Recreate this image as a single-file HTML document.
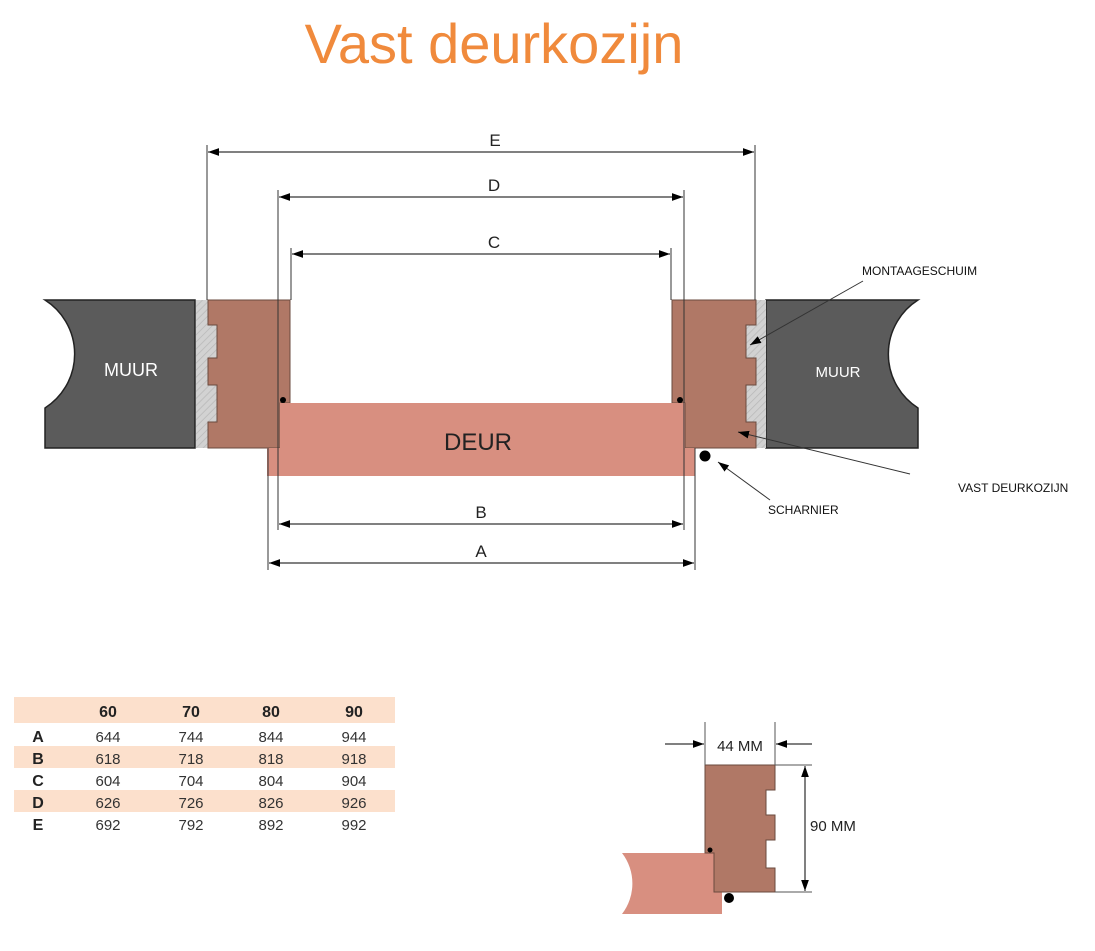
<!DOCTYPE html>
<html><head><meta charset="utf-8"><style>
html,body{margin:0;padding:0;background:#fff}
svg{display:block}
text{font-family:"Liberation Sans",sans-serif}
</style></head><body>
<svg width="1095" height="951" viewBox="0 0 1095 951" xmlns="http://www.w3.org/2000/svg">
<defs>
<pattern id="h" width="5" height="5" patternUnits="userSpaceOnUse" patternTransform="rotate(45)">
<rect width="5" height="5" fill="#d2d2d2"/><line x1="0" y1="0" x2="0" y2="5" stroke="#b8b8b8" stroke-width="1.5"/></pattern>
<marker id="a" viewBox="0 0 10 10" refX="10" refY="5" markerWidth="11" markerHeight="11" orient="auto-start-reverse"><path d="M0,1.5 L10,5 L0,8.5z" fill="#000"/></marker>
</defs>
<text x="494" y="63" font-size="56" fill="#f08a3c" text-anchor="middle" font-family="Liberation Sans">Vast deurkozijn</text>

<!-- walls -->
<path d="M45,300 L195,300 L195,448 L45,448 L45,408 A64,64 0 0 0 45,300Z" fill="#5b5b5b" stroke="#222" stroke-width="1.5"/>
<path d="M766,300 L918,300 A64,64 0 0 0 918,408 L918,448 L766,448Z" fill="#5b5b5b" stroke="#222" stroke-width="1.5"/>
<text x="131" y="376" font-size="18" fill="#fff" text-anchor="middle">MUUR</text>
<text x="838" y="377" font-size="15" fill="#fff" text-anchor="middle">MUUR</text>

<!-- foam -->
<rect x="196" y="300" width="22" height="148" fill="url(#h)"/>
<rect x="745" y="300" width="21" height="148" fill="url(#h)"/>

<!-- frames -->
<path d="M208,300 L290,300 L290,403 L280,403 L280,448 L208,448 L208,422 L217,422 L217,385 L208,385 L208,358 L217,358 L217,325 L208,325Z" fill="#b07866" stroke="#6a4a3e" stroke-width="1"/>
<path d="M672,300 L756,300 L756,325 L746,325 L746,358 L756,358 L756,385 L746,385 L746,422 L756,422 L756,448 L685,448 L685,403 L672,403Z" fill="#b07866" stroke="#6a4a3e" stroke-width="1"/>
<circle cx="283" cy="400" r="3" fill="#000"/><circle cx="680" cy="400" r="3" fill="#000"/>

<!-- door -->
<path d="M280,403 L685,403 L685,448 L695,448 L695,476 L267,476 L267,448 L280,448Z" fill="#d88f80"/>
<text x="478" y="450" font-size="24" fill="#222" text-anchor="middle">DEUR</text>
<circle cx="705" cy="456" r="5.5" fill="#000"/>

<!-- extension lines -->
<g stroke="#333" stroke-width="1" fill="none">
<line x1="207" y1="145" x2="207" y2="300"/><line x1="755" y1="145" x2="755" y2="300"/>
<line x1="278" y1="190" x2="278" y2="530"/><line x1="684" y1="190" x2="684" y2="530"/>
<line x1="291" y1="248" x2="291" y2="300"/><line x1="671" y1="248" x2="671" y2="300"/>
<line x1="268" y1="448" x2="268" y2="570"/><line x1="695" y1="448" x2="695" y2="570"/>
</g>
<g stroke="#000" stroke-width="1" marker-start="url(#a)" marker-end="url(#a)">
<line x1="208" y1="152" x2="754" y2="152"/>
<line x1="279" y1="197" x2="683" y2="197"/>
<line x1="292" y1="254" x2="670" y2="254"/>
<line x1="279" y1="524" x2="683" y2="524"/>
<line x1="269" y1="563" x2="694" y2="563"/>
</g>
<g font-size="17" fill="#222" text-anchor="middle">
<text x="495" y="146">E</text><text x="494" y="191">D</text><text x="494" y="248">C</text>
<text x="481" y="518">B</text><text x="481" y="557">A</text>
</g>

<!-- callouts -->
<g stroke="#333" stroke-width="1">
<line x1="863" y1="281" x2="750" y2="345" marker-end="url(#a)"/>
<line x1="910" y1="474" x2="738" y2="432" marker-end="url(#a)"/>
<line x1="770" y1="500" x2="718" y2="462" marker-end="url(#a)"/>
</g>
<g font-size="12" fill="#111">
<text x="862" y="275">MONTAAGESCHUIM</text>
<text x="958" y="492">VAST DEURKOZIJN</text>
<text x="768" y="514">SCHARNIER</text>
</g>

<!-- table -->
<rect x="14" y="697" width="381" height="26" fill="#fce0cc"/>
<rect x="14" y="746" width="381" height="22" fill="#fce0cc"/>
<rect x="14" y="790" width="381" height="22" fill="#fce0cc"/>
<g font-size="15" fill="#333" text-anchor="middle">
<g font-weight="bold" fill="#222" font-size="16"><text x="108" y="717">60</text><text x="191" y="717">70</text><text x="271" y="717">80</text><text x="354" y="717">90</text>
<text x="38" y="742">A</text><text x="38" y="764">B</text><text x="38" y="786">C</text><text x="38" y="808">D</text><text x="38" y="830">E</text></g>
<text x="108" y="742">644</text><text x="191" y="742">744</text><text x="271" y="742">844</text><text x="354" y="742">944</text>
<text x="108" y="764">618</text><text x="191" y="764">718</text><text x="271" y="764">818</text><text x="354" y="764">918</text>
<text x="108" y="786">604</text><text x="191" y="786">704</text><text x="271" y="786">804</text><text x="354" y="786">904</text>
<text x="108" y="808">626</text><text x="191" y="808">726</text><text x="271" y="808">826</text><text x="354" y="808">926</text>
<text x="108" y="830">692</text><text x="191" y="830">792</text><text x="271" y="830">892</text><text x="354" y="830">992</text>
</g>

<!-- detail -->
<path d="M622,853 L714,853 L714,889 L722,889 L722,914 L622,914 A50,50 0 0 0 622,853Z" fill="#d88f80"/>
<path d="M705,765 L775,765 L775,790 L766,790 L766,815 L775,815 L775,840 L766,840 L766,868 L775,868 L775,892 L714,892 L714,853 L705,853Z" fill="#b07866" stroke="#6a4a3e" stroke-width="1"/>
<circle cx="710" cy="850" r="2.5" fill="#000"/>
<circle cx="729" cy="898" r="5" fill="#000"/>
<g stroke="#555" stroke-width="1">
<line x1="705" y1="722" x2="705" y2="765"/><line x1="775" y1="722" x2="775" y2="765"/>
<line x1="775" y1="765" x2="812" y2="765"/><line x1="775" y1="892" x2="812" y2="892"/>
</g>
<g stroke="#000" stroke-width="1">
<line x1="665" y1="744" x2="704" y2="744" marker-end="url(#a)"/>
<line x1="812" y1="744" x2="776" y2="744" marker-end="url(#a)"/>
<line x1="805" y1="766" x2="805" y2="891" marker-start="url(#a)" marker-end="url(#a)"/>
</g>
<text x="740" y="751" font-size="15" fill="#222" text-anchor="middle">44 MM</text>
<text x="810" y="831" font-size="15" fill="#222">90 MM</text>
</svg>
</body></html>
